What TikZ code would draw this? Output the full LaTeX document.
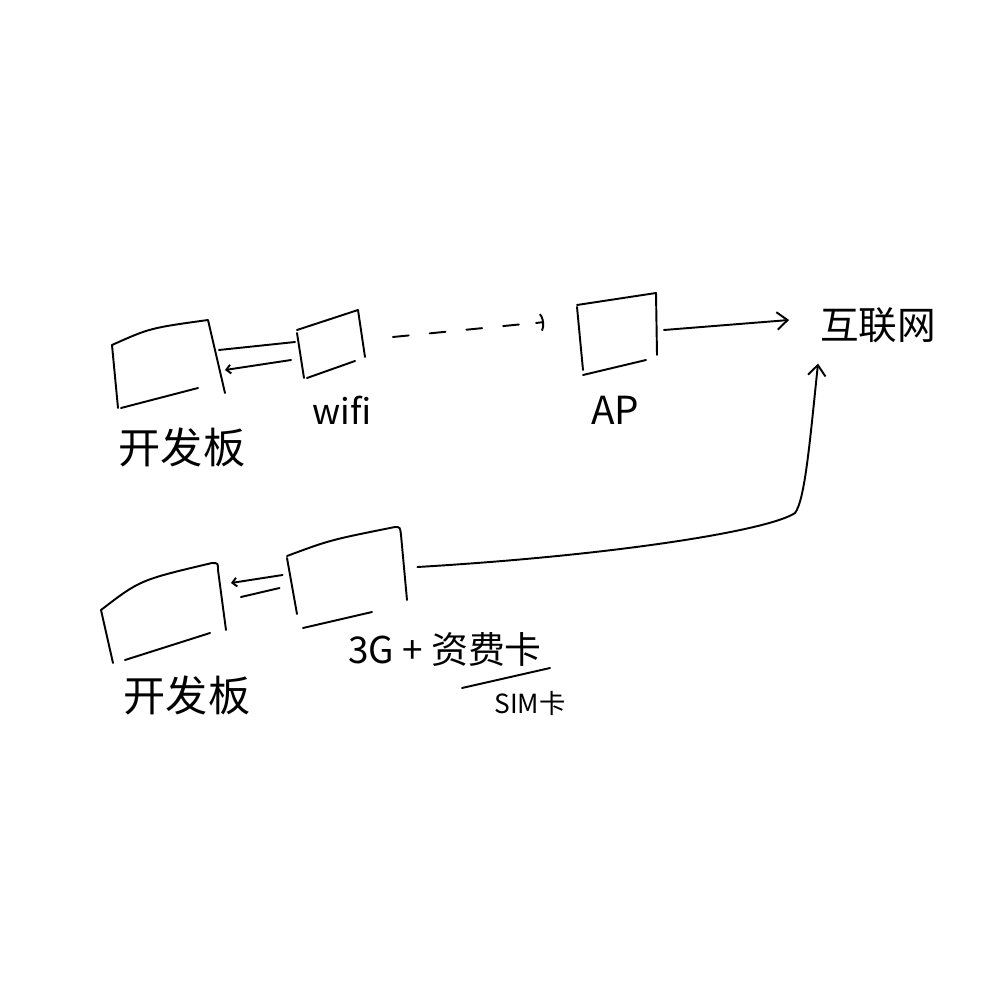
\documentclass[tikz,border=0pt]{standalone}
\usepackage{fontspec}
\setmainfont{Noto Sans CJK SC}
\usetikzlibrary{arrows.meta,calc}
\begin{document}
\begin{tikzpicture}[x=0.02cm,y=-0.02cm,
  line width=1.1pt, line cap=round, line join=round,
  hbox/.style={draw=none, inner sep=0pt, minimum width=#1},
  lbl/.style={inner sep=0pt, font=\fontsize{#1}{#1}\selectfont},
  tip/.style={-{Straight Barb[length=6pt,width=10pt]}},
  smalltip/.style={-{Straight Barb[length=2.5pt,width=5pt]}},
  arctip/.style={-{Arc Barb[arc=120,length=3pt,width=12pt]}}]
\fill[white] (0,0) rectangle (1000,1000);
\useasboundingbox (0,0) rectangle (1000,1000);

% box placeholder nodes
\node[hbox=2.2cm, minimum height=1.5cm] (board1) at (168,375) {};
\node[hbox=1.32cm, minimum height=1.2cm] (wifi) at (331,345) {};
\node[hbox=1.6cm, minimum height=1.5cm] (ap) at (617,333) {};
\node[hbox=2.4cm, minimum height=1.9cm] (board2) at (163,612) {};
\node[hbox=2.3cm, minimum height=1.8cm] (g3) at (347,578) {};

% sketchy box strokes
\draw (112,345) -- (118,408);
\draw (112,345) .. controls (150,328) .. (208,320) -- (225,393);
\draw (121,408) -- (198,388);

\draw (297,333) -- (304,378);
\draw (297,330) -- (358,310) -- (365,357);
\draw (307,378) -- (355,361);

\draw (577,307) -- (583,370);
\draw (577,305) -- (656,293) -- (657,355);
\draw (583,375) -- (646,360);

\draw (101,610) -- (113,663);
\draw (101,610) .. controls (140,580) .. (212,563) .. controls (218,563) .. (218,570) -- (226,630);
\draw (125,660) -- (210,633);

\draw (287,558) -- (297,614);
\draw (287,556) .. controls (330,540) .. (395,527) .. controls (400,527) .. (401,535) -- (407,600);
\draw (303,628) -- (372,612);

% labels
\node[lbl=24pt] (lb1) at (182,447) {开发板};
\node[lbl=20pt] (lwifi) at (342,410) {wifi};
\node[lbl=22pt] (lap) at (615,410) {AP};
\node[lbl=22pt] (net) at (878,325) {互联网};
\node[lbl=24pt] (lb2) at (187,695) {开发板};
\node[lbl=21pt] (l3g) at (445,650) {3G + 资费卡};
\node[lbl=15pt] (lsim) at (530,703) {SIM卡};
\draw (462,688) -- (550,668);

% connectors
\draw ($(board1.east)+(-5,-25)$) -- ($(wifi.west)+(-2,-3)$);
\draw[smalltip] ($(wifi.west)+(-6,15)$) -- ($(board1.east)+(1,-5)$);
\draw[dash pattern=on 9pt off 12pt] ($(wifi.east)+(28,-8)$) -- ($(ap.west)+(-42,-10)$);
\draw[arctip] ($(ap.west)+(-40,-10)$) -- ($(ap.west)+(-32,-11)$);
\draw[tip] ($(ap.east)+(6,-3)$) -- ($(net.west)+(-30,-5)$);

\draw[smalltip] ($(g3.west)+(-6,-3)$) -- ($(board2.east)+(7,-29)$);
\draw ($(g3.west)+(-9,10)$) -- ($(board2.east)+(17,-15)$);
\draw[tip] ($(g3.east)+(12,-11)$) .. controls (620,555) and (770,530) .. (795,513)
  .. controls (805,500) and (810,440) .. ($(net.south)+(-60,20)$);
\end{tikzpicture}
\end{document}
